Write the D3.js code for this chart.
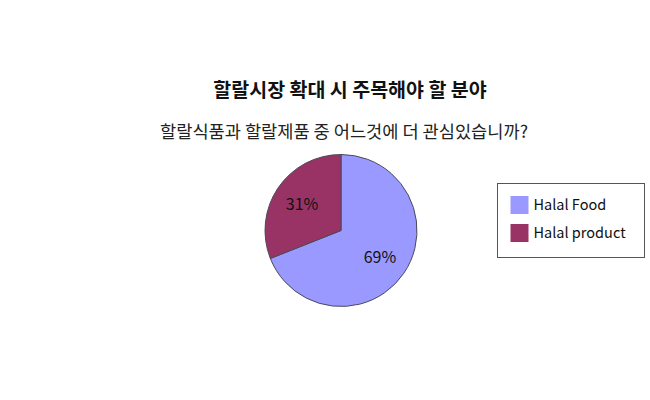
<!DOCTYPE html>
<html>
<head>
<meta charset="utf-8">
<script src="https://cdn.jsdelivr.net/npm/d3@7"></script>
<style>
	body{margin:0;background:#fff;}
	svg{display:block;font-family:"Noto Sans CJK KR","Noto Sans",sans-serif;}
</style>
</head>
<body>
<svg id="chart" width="650" height="400"></svg>
<script>
const categories = ['Halal Food','Halal product'];
const values = [69,31];
const colors = ['#9999FF','#993366'];
const title = '할랄시장 확대 시 주목해야 할 분야';
const subtitle = '할랄식품과 할랄제품 중 어느것에 더 관심있습니까?';

const svg = d3.select('#chart');
const cx = 341, cy = 230.5, radius = 76;

svg.append('text')
	.attr('x',350).attr('y',97)
	.attr('text-anchor','middle')
	.attr('font-size',19.5).attr('font-weight','bold')
	.attr('fill','#111')
	.text(title);
svg.append('text')
	.attr('x',344).attr('y',138)
	.attr('text-anchor','middle')
	.attr('font-size',17.6)
	.attr('fill','#222')
	.text(subtitle);

const data = categories.map((c,i)=>({name:c,value:values[i],color:colors[i]}));
const pie = d3.pie().value(d=>d.value).sort(null);
const arc = d3.arc().innerRadius(0).outerRadius(radius);
const labelArc = d3.arc().innerRadius(radius*0.62).outerRadius(radius*0.62);
const arcs = pie(data);

const g = svg.append('g').attr('transform','translate('+cx+','+cy+')');
g.selectAll('path')
	.data(arcs)
	.join('path')
		.attr('d',arc)
		.attr('fill',d=>d.data.color)
		.attr('stroke','#4a4a5a')
		.attr('stroke-width',1);
g.selectAll('text')
	.data(arcs)
	.join('text')
		.attr('transform',d=>'translate('+labelArc.centroid(d)+')')
		.attr('text-anchor','middle')
		.attr('dy','0.35em')
		.attr('font-size',16)
		.attr('fill','#111')
		.text(d=>d.data.value+'%');

// legend
const lg = svg.append('g').attr('transform','translate(497.5,183.5)');
lg.append('rect')
	.attr('width',147).attr('height',74)
	.attr('fill','#fff').attr('stroke','#555');
const items = lg.selectAll('g.item')
	.data(data)
	.join('g')
	.classed('item',true)
	.attr('transform',(d,i)=>'translate(13,'+(12.5+i*28)+')');
items.append('rect')
	.attr('width',18).attr('height',18)
	.attr('fill',d=>d.color);
items.append('text')
	.attr('x',23).attr('y',9)
	.attr('dy','0.35em')
	.attr('font-size',14.5)
	.attr('fill','#111')
	.text(d=>d.name);
</script>
</body>
</html>
